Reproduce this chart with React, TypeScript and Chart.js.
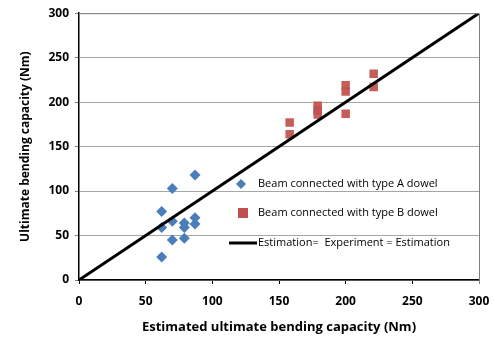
import React, { useEffect, useRef } from "react";
import { Chart, registerables } from "chart.js";

Chart.register(...registerables);

const seriesAName = "Beam connected with type A dowel";
const seriesBName = "Beam connected with type B dowel";
const lineName = "Estimation=  Experiment = Estimation";

const typeAX = [87, 70, 62, 70, 62, 79, 79, 87, 87, 70, 79, 62];
const typeAY = [118, 103, 77, 66, 59, 64, 59, 70, 63, 45, 47, 26];

const typeBX = [158, 158, 179, 179, 179, 200, 200, 200, 221, 221];
const typeBY = [177, 164, 196, 191, 186, 219, 212, 187, 232, 217];

const lineX = [0, 300];
const lineY = [0, 300];

const xTitle = "Estimated ultimate bending capacity (Nm)";
const yTitle = "Ultimate bending capacity (Nm)";

const FONT = "'Open Sans', 'Liberation Sans', sans-serif";

export default function App() {
  const ref = useRef<HTMLCanvasElement | null>(null);
  useEffect(() => {
    if (!ref.current) return;
    const legendPlugin = {
      id: "customLegend",
      afterDraw(chart: any) {
        const ctx = chart.ctx;
        const { chartArea } = chart;
        ctx.save();
        ctx.strokeStyle = "#7f7f7f";
        ctx.lineWidth = 1;
        ctx.beginPath();
        ctx.moveTo(chartArea.left, chartArea.top + 0.5);
        ctx.lineTo(chartArea.right + 0.5, chartArea.top + 0.5);
        ctx.lineTo(chartArea.right + 0.5, chartArea.bottom + 4);
        ctx.stroke();

        ctx.font = `11px ${FONT}`;
        ctx.textBaseline = "middle";
        const tx = 258;
        ctx.fillStyle = "#4a7ebb";
        ctx.beginPath();
        ctx.moveTo(241, 179);
        ctx.lineTo(246, 184);
        ctx.lineTo(241, 189);
        ctx.lineTo(236, 184);
        ctx.closePath();
        ctx.fill();
        ctx.fillStyle = "#000";
        ctx.fillText(seriesAName, tx, 184);
        ctx.fillStyle = "#c0504d";
        ctx.fillRect(238, 208, 10, 10);
        ctx.fillStyle = "#000";
        ctx.fillText(seriesBName, tx, 213);
        ctx.strokeStyle = "#000";
        ctx.lineWidth = 3;
        ctx.beginPath();
        ctx.moveTo(229, 243);
        ctx.lineTo(257, 243);
        ctx.stroke();
        ctx.fillText(lineName, tx, 243);
        ctx.restore();
      },
    };
    const chart = new Chart(ref.current, {
      type: "scatter",
      data: {
        datasets: [
          {
            label: lineName,
            type: "line",
            data: lineX.map((x, i) => ({ x, y: lineY[i] })),
            borderColor: "#000",
            borderWidth: 3,
            pointRadius: 0,
            order: 0,
          },
          {
            label: seriesAName,
            data: typeAX.map((x, i) => ({ x, y: typeAY[i] })),
            pointStyle: "rectRot",
            pointRadius: 5.5,
            backgroundColor: "#4a7ebb",
            borderColor: "#4a7ebb",
            borderWidth: 0,
            order: 1,
          },
          {
            label: seriesBName,
            data: typeBX.map((x, i) => ({ x, y: typeBY[i] })),
            pointStyle: "rect",
            pointRadius: 6,
            backgroundColor: "rgba(192,80,77,0.92)",
            borderColor: "rgba(192,80,77,0.92)",
            borderWidth: 0,
            order: 2,
          },
        ],
      },
      options: {
        animation: false,
        responsive: false,
        maintainAspectRatio: false,
        layout: { padding: { top: 11, right: 15, left: 0, bottom: 0 } },
        plugins: { legend: { display: false }, tooltip: { enabled: false } },
        scales: {
          x: {
            type: "linear",
            min: 0,
            max: 300,
            ticks: {
              stepSize: 50,
              color: "#000",
              font: { family: FONT, size: 12, weight: "bold" },
              padding: 10,
            },
            grid: {
              display: true,
              drawOnChartArea: false,
              drawTicks: true,
              tickLength: 4,
              color: "#000",
            },
            border: { color: "#000", width: 1.5 },
            title: {
              display: true,
              text: xTitle,
              color: "#000",
              font: { family: FONT, size: 13, weight: "bold" },
              padding: { top: 4, bottom: 7 },
            },
            afterFit(scale: any) {
              scale.height = 62;
              scale.paddingRight = 0;
            },
          },
          y: {
            type: "linear",
            min: 0,
            max: 300,
            ticks: {
              stepSize: 50,
              color: "#000",
              font: { family: FONT, size: 12, weight: "bold" },
              padding: 6,
            },
            grid: {
              color: "#a6a6a6",
              tickColor: "#7f7f7f",
              tickLength: 4,
            },
            border: { color: "#000", width: 1.5 },
            title: {
              display: true,
              text: yTitle,
              color: "#000",
              font: { family: FONT, size: 12, weight: "bold" },
              padding: { top: 18, bottom: 0 },
            },
            afterFit(scale: any) {
              scale.width = 79;
            },
          },
        },
      },
      plugins: [legendPlugin],
    });
    return () => chart.destroy();
  }, []);
  return (
    <div style={{ position: "fixed", left: 0, top: 0, width: 494, height: 342, background: "#fff" }}>
      <canvas ref={ref} width={494} height={342} style={{ width: 494, height: 342 }} />
    </div>
  );
}
